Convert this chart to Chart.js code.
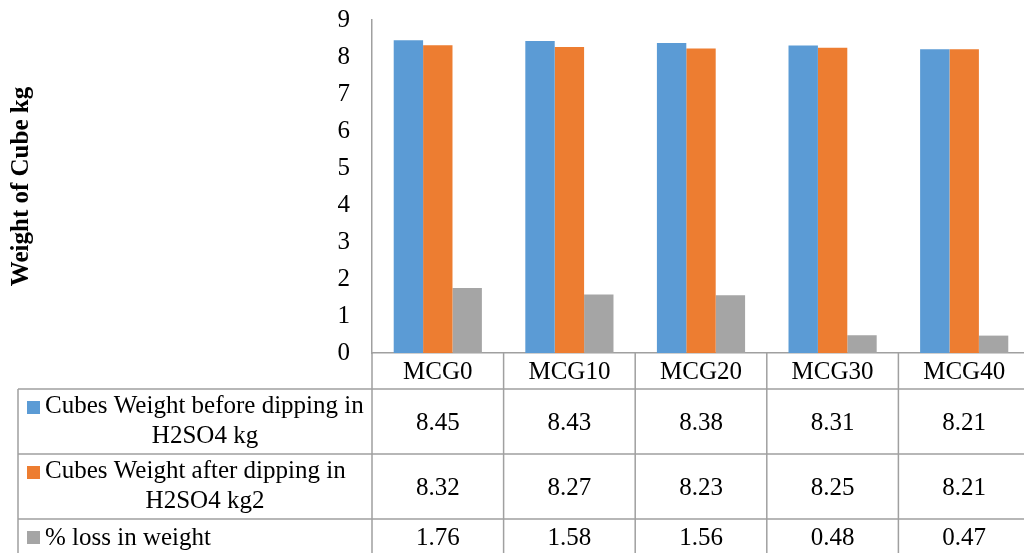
<!DOCTYPE html>
<html>
<head>
<meta charset="utf-8">
<script src="https://cdn.jsdelivr.net/npm/chart.js@4.4.1/dist/chart.umd.min.js"></script>
<style>
  html, body { margin: 0; padding: 0; background: #fff; overflow: hidden; }
  #wrap { width: 1024px; height: 553px; overflow: hidden; }
  canvas { display: block; }
</style>
</head>
<body>
<div id="wrap"><canvas id="chart" width="1040" height="553"></canvas></div>
<script>
// Mix designs and measured cube weights
const categories = ['MCG0', 'MCG10', 'MCG20', 'MCG30', 'MCG40'];
const beforeDipping = [8.45, 8.43, 8.38, 8.31, 8.21];
const afterDipping = [8.32, 8.27, 8.23, 8.25, 8.21];
const lossPercent = [1.76, 1.58, 1.56, 0.48, 0.47];

// Series names as they wrap in the data table
const seriesNames = [
  ['Cubes Weight before dipping in', 'H2SO4 kg'],
  ['Cubes Weight after dipping in', 'H2SO4 kg2'],
  ['% loss in weight']
];
const seriesColors = ['#5b9bd5', '#ed7d31', '#a5a5a5'];

// Value axis
const yMin = 0;
const yMax = 9;
const yStep = 1;
const yTitle = 'Weight of Cube kg';

const FONT = '"Liberation Serif", "Times New Roman", serif';
const LINE = '#a0a0a0';

// Data table drawn under the category axis, aligned with the x scale
const dataTablePlugin = {
  id: 'dataTable',
  afterDraw(chart) {
    const { ctx, chartArea } = chart;
    const xs = chart.scales.x;
    const n = categories.length;
    const left = chartArea.left;
    const right = chartArea.right;
    const colW = (right - left) / n;
    const tableLeft = 18;
    const headerBottom = chartArea.bottom + 36;
    const rowHeights = [65, 65, 35];
    const rowTops = [headerBottom];
    rowHeights.forEach((h, i) => rowTops.push(rowTops[i] + h));
    const tableBottom = rowTops[rowTops.length - 1];

    ctx.save();
    ctx.strokeStyle = LINE;
    ctx.lineWidth = 1.5;
    ctx.beginPath();
    // vertical lines
    ctx.moveTo(left, chartArea.bottom); ctx.lineTo(left, tableBottom);
    for (let k = 1; k <= n; k++) {
      const x = left + k * colW;
      ctx.moveTo(x, chartArea.bottom); ctx.lineTo(x, tableBottom);
    }
    ctx.moveTo(tableLeft, headerBottom); ctx.lineTo(tableLeft, tableBottom);
    // horizontal lines
    rowTops.forEach(y => { ctx.moveTo(tableLeft, y); ctx.lineTo(right, y); });
    ctx.stroke();

    ctx.fillStyle = '#000';
    ctx.font = '25px ' + FONT;
    chart.data.datasets.forEach((ds, r) => {
      const top = rowTops[r];
      const h = rowHeights[r];
      // legend key
      ctx.fillStyle = ds.backgroundColor;
      ctx.fillRect(27, top + 12, 13, 13);
      ctx.fillStyle = '#000';
      const lines = seriesNames[r];
      if (lines.length === 2) {
        ctx.textAlign = 'left';
        ctx.fillText(lines[0], 45, top + 24);
        ctx.textAlign = 'center';
        ctx.fillText(lines[1], 205, top + 54);
      } else {
        ctx.textAlign = 'left';
        ctx.fillText(lines[0], 45, top + 26);
      }
      // values
      ctx.textAlign = 'center';
      const baseY = lines.length === 2 ? top + h / 2 + 8.5 : top + 26;
      ds.data.forEach((v, i) => {
        ctx.fillText(v.toFixed(2), xs.getPixelForValue(i), baseY);
      });
    });
    ctx.restore();
  }
};

const datasets = [beforeDipping, afterDipping, lossPercent].map((vals, i) => ({
  label: seriesNames[i].join(' '),
  data: vals,
  backgroundColor: seriesColors[i],
  borderWidth: 0,
  categoryPercentage: 0.67,
  barPercentage: 1.0
}));

new Chart(document.getElementById('chart'), {
  type: 'bar',
  data: { labels: categories, datasets },
  plugins: [dataTablePlugin],
  options: {
    responsive: false,
    animation: false,
    events: [],
    layout: { padding: { top: 20, right: 10, bottom: 0, left: 0 } },
    plugins: { legend: { display: false }, tooltip: { enabled: false } },
    scales: {
      x: {
        grid: { display: false, drawTicks: false },
        border: { display: true, color: LINE, width: 1.5 },
        ticks: { color: '#000', font: { family: FONT, size: 25 }, padding: 4, maxRotation: 0 },
        afterFit(scale) { scale.height = 200; }
      },
      y: {
        min: yMin,
        max: yMax,
        grid: { display: false, drawTicks: false },
        border: { display: true, color: LINE, width: 1.5 },
        ticks: { stepSize: yStep, color: '#000', font: { family: FONT, size: 25 }, padding: 22 },
        title: {
          display: true,
          text: yTitle,
          color: '#000',
          font: { family: FONT, size: 25, weight: 'bold' },
          padding: { top: 7, bottom: 0 }
        },
        afterFit(scale) {
          scale.width = 372;
          scale.paddingTop = 0;
          scale.paddingBottom = 0;
        }
      }
    }
  }
});
</script>
</body>
</html>
